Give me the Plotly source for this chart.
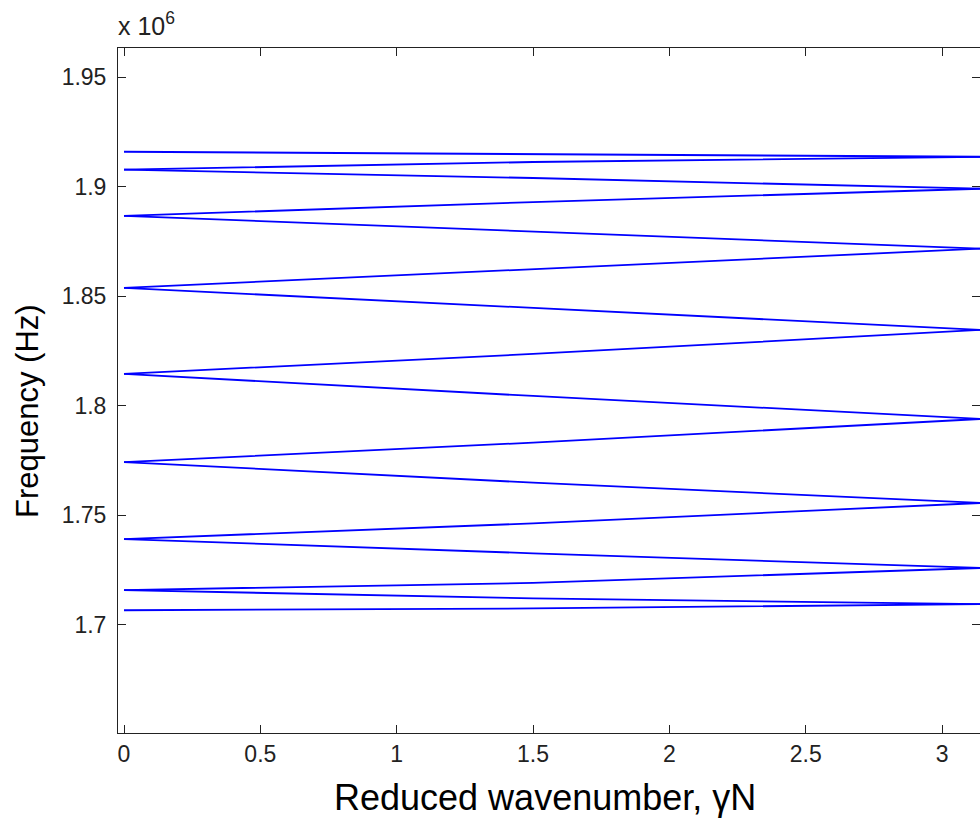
import math
import plotly.graph_objects as go

# Reduced wavenumber sample points (0 .. pi)
k_samples = [0.0, 1.5, math.pi]

# Frequency branches, in units of 1e6 Hz, read at k = 0, 1.5, pi
branch_01 = [1.9160, 1.9150, 1.9137]
branch_02 = [1.9078, 1.9113, 1.9137]
branch_03 = [1.9078, 1.9040, 1.8991]
branch_04 = [1.8867, 1.8930, 1.8991]
branch_05 = [1.8867, 1.8796, 1.8717]
branch_06 = [1.8538, 1.8624, 1.8717]
branch_07 = [1.8538, 1.8445, 1.8346]
branch_08 = [1.8145, 1.8236, 1.8346]
branch_09 = [1.8145, 1.8044, 1.7939]
branch_10 = [1.7742, 1.7831, 1.7939]
branch_11 = [1.7742, 1.7648, 1.7555]
branch_12 = [1.7390, 1.7462, 1.7555]
branch_13 = [1.7390, 1.7325, 1.7258]
branch_14 = [1.7157, 1.7190, 1.7258]
branch_15 = [1.7157, 1.7119, 1.7093]
branch_16 = [1.7065, 1.7073, 1.7093]

branches = [branch_01, branch_02, branch_03, branch_04, branch_05, branch_06,
            branch_07, branch_08, branch_09, branch_10, branch_11, branch_12,
            branch_13, branch_14, branch_15, branch_16]

x_tick_values = [0, 0.5, 1, 1.5, 2, 2.5, 3]
x_tick_labels = ["0", "0.5", "1", "1.5", "2", "2.5", "3"]
y_tick_values = [1.7, 1.75, 1.8, 1.85, 1.9, 1.95]
y_tick_labels = ["1.7", "1.75", "1.8", "1.85", "1.9", "1.95"]

FONT = "Liberation Sans, Arial, Helvetica, sans-serif"

fig = go.Figure()
for b in branches:
    fig.add_trace(go.Scatter(x=k_samples, y=b, mode="lines",
                             line=dict(color="#0000ff", width=1.8),
                             showlegend=False, hoverinfo="skip"))

# invisible trace to activate right-side tick axis
fig.add_trace(go.Scatter(x=[0], y=[1.8], yaxis="y2", mode="markers",
                         marker=dict(opacity=0), showlegend=False, hoverinfo="skip"))

W, H = 980, 820
ML, MR, MT, MB = 118, 0, 48, 87

fig.update_layout(
    width=W, height=H,
    margin=dict(l=ML, r=MR, t=MT, b=MB, pad=0),
    paper_bgcolor="white", plot_bgcolor="white",
    font=dict(family=FONT, color="black"),
    xaxis=dict(range=[-0.022, 3.139], showgrid=False, zeroline=False,
               showline=True, linecolor="#222", linewidth=1, mirror="ticks",
               ticks="inside", ticklen=8, tickcolor="#222", tickwidth=1,
               tickvals=x_tick_values, ticktext=x_tick_labels,
               tickfont=dict(size=23, family=FONT, color="#222"),
               ticklabelstandoff=0),
    yaxis=dict(range=[1.6504, 1.9634], showgrid=False, zeroline=False,
               showline=True, linecolor="#222", linewidth=1, mirror=False,
               ticks="inside", ticklen=8, tickcolor="#222", tickwidth=1,
               tickvals=y_tick_values, ticktext=y_tick_labels,
               tickfont=dict(size=23, family=FONT, color="#222"),
               ticklabelstandoff=6),
    yaxis2=dict(range=[1.6504, 1.9634], overlaying="y", side="right",
                anchor="x", showgrid=False, zeroline=False, showline=False,
                ticks="inside", ticklen=8, tickcolor="#222", tickwidth=1,
                tickvals=y_tick_values, showticklabels=False),
)

plot_h = H - MT - MB
plot_w = W - ML - MR

def px_x(p):
    return (p - ML) / plot_w

def px_y(p):
    return (H - MB - p) / plot_h

fig.add_annotation(text="Reduced wavenumber, γN", xref="paper", yref="paper",
                   x=px_x(545), y=px_y(797), xanchor="center", yanchor="middle",
                   showarrow=False, font=dict(size=36, family=FONT, color="black"))
fig.add_annotation(text="Frequency (Hz)", xref="paper", yref="paper",
                   x=px_x(27), y=px_y(411), xanchor="center", yanchor="middle",
                   textangle=-90, showarrow=False,
                   font=dict(size=31, family=FONT, color="black"))
fig.add_annotation(text="x 10<sup>6</sup>", xref="paper", yref="paper",
                   x=px_x(116), y=px_y(24), xanchor="left", yanchor="middle",
                   showarrow=False, font=dict(size=25, family=FONT, color="#222"))

fig.write_html("out.html")
